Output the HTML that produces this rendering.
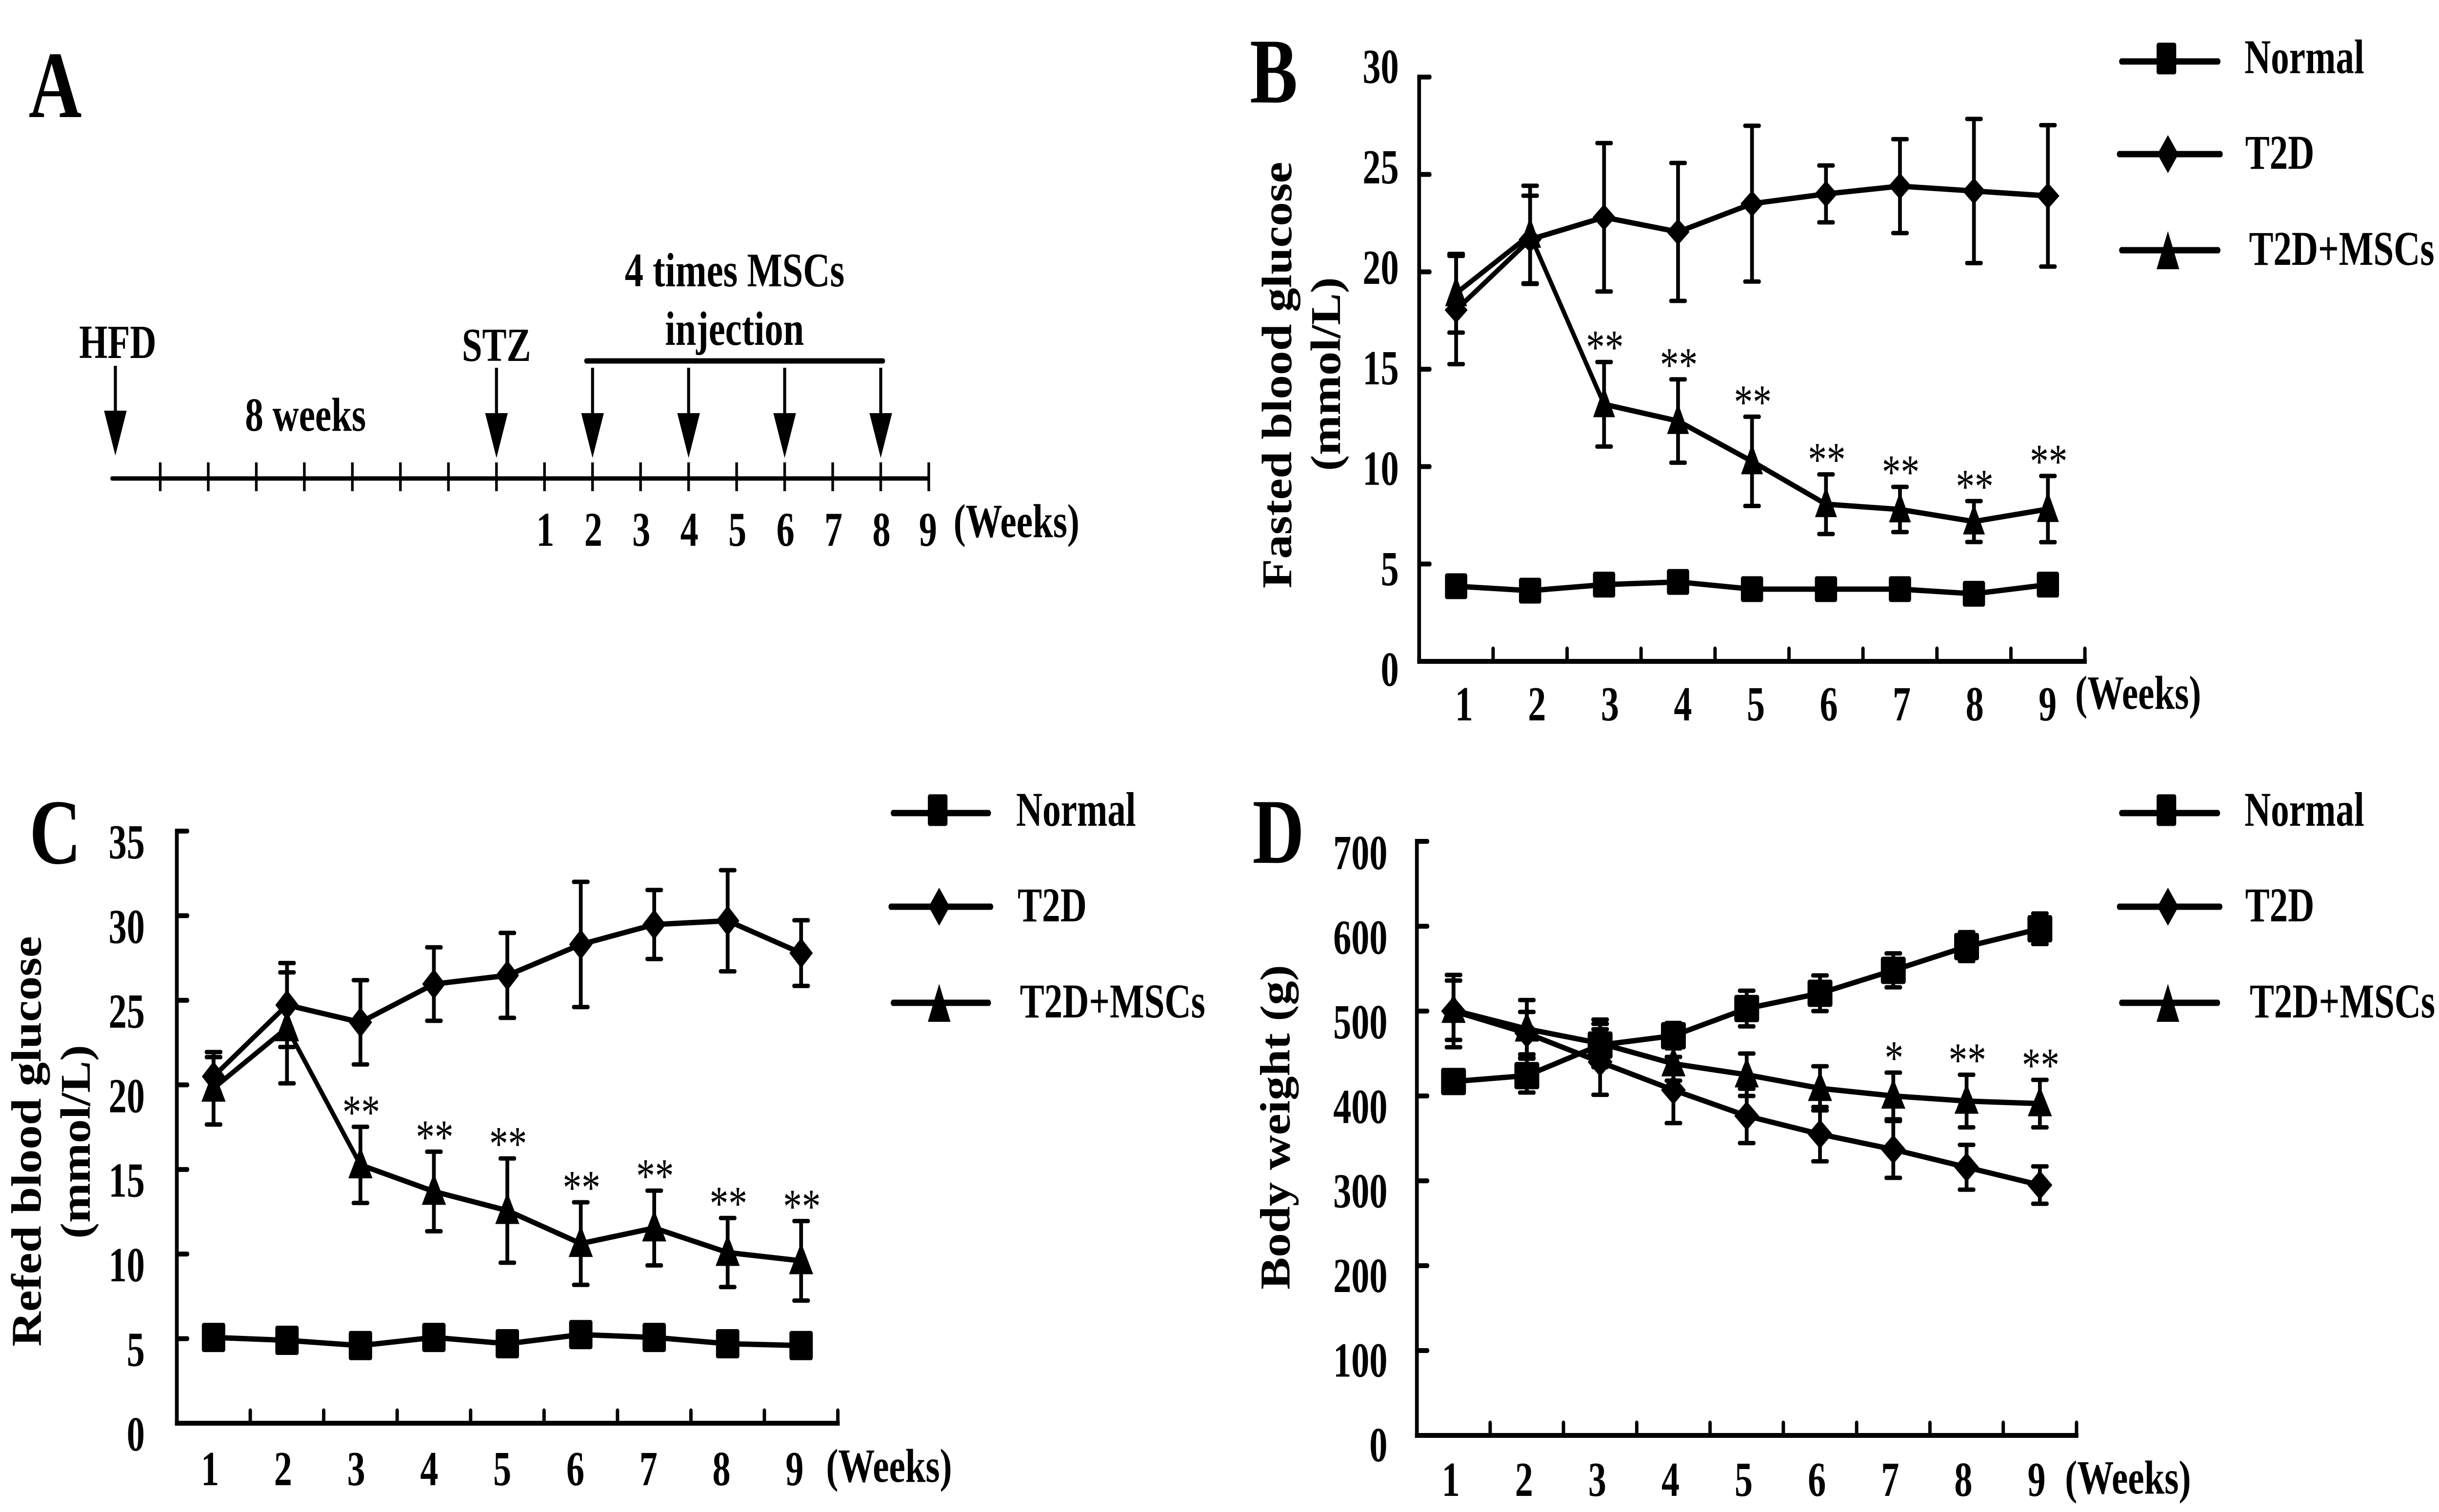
<!DOCTYPE html>
<html lang="en">
<head>
<meta charset="utf-8">
<title>Glucose and body weight after MSC injection</title>
<style>
html,body{margin:0;padding:0;background:#fff;width:100%;height:100%;overflow:hidden;}
svg{display:block;width:100vw;height:100vh;}
text{font-family:"Liberation Serif","Times New Roman",serif;font-weight:700;fill:#000;}
</style>
</head>
<body>
<svg id="figure" xmlns="http://www.w3.org/2000/svg" viewBox="0 0 6469 3100" preserveAspectRatio="none">
  <rect x="0" y="0" width="6469" height="3100" fill="#fff"/>

  <text x="76" y="240" font-size="195">A</text>
  <text x="3315" y="210" font-size="190">B</text>
  <text x="78" y="1770" font-size="190">C</text>
  <text x="3322" y="1769" font-size="190">D</text>

  <g id="timeline">
    <text x="210" y="734" font-size="97">HFD</text>
    <text x="1225" y="740" font-size="97">STZ</text>
    <text x="650" y="883" font-size="97">8 weeks</text>
    <text x="1657" y="587" font-size="99">4 times MSCs</text>
    <text x="1764" y="707" font-size="99">injection</text>
    <line x1="1555" y1="740" x2="2342" y2="740" stroke="#000" stroke-width="11" stroke-linecap="round"/>
    <text x="2529" y="1101" font-size="97">(Weeks)</text>
  </g>

  <text transform="translate(3425,769) rotate(-90) scale(1,1.14)" text-anchor="middle" font-size="99">Fasted blood glucose</text>
  <text transform="translate(3554,767) rotate(-90) scale(1,1.14)" text-anchor="middle" font-size="98">(mmol/L)</text>
  <text transform="translate(108,2340) rotate(-90) scale(1,1.14)" text-anchor="middle" font-size="99">Refed blood glucose</text>
  <text transform="translate(238,2341) rotate(-90) scale(1,1.14)" text-anchor="middle" font-size="98">(mmol/L)</text>
  <text transform="translate(3420,2311) rotate(-90) scale(1,1.14)" text-anchor="middle" font-size="99">Body weight (g)</text>

  <text x="5504" y="1453" font-size="97">(Weeks)</text>
  <text x="2191" y="3038" font-size="97">(Weeks)</text>
  <text x="5477" y="3062" font-size="97">(Weeks)</text>
</svg>

<script>
// ---- shared categories ----
const weeks = [1, 2, 3, 4, 5, 6, 7, 8, 9];
const seriesNames = ['Normal', 'T2D', 'T2D+MSCs'];

// ---- panel A timeline ----
const timelineWeeks = [1, 2, 3, 4, 5, 6, 7, 8, 9];
const timelineInjectionWeeks = [2, 4, 6, 8];

// ---- panel B: fasted blood glucose (mmol/L) ----
const bTicks = [0, 5, 10, 15, 20, 25, 30];
const bNormal = [3.86, 3.63, 3.94, 4.08, 3.71, 3.71, 3.71, 3.47, 3.94];
const bNormalErr = [0.3, 0.3, 0.3, 0.3, 0.3, 0.3, 0.3, 0.3, 0.3];
const bT2D = [18.04, 21.66, 22.8, 22.05, 23.5, 24.0, 24.4, 24.15, 23.9];
const bT2DErr = [2.78, 2.25, 3.81, 3.54, 4.0, 1.46, 2.41, 3.7, 3.63];
const bMSC = [18.9, 21.9, 13.2, 12.34, 10.27, 8.07, 7.8, 7.18, 7.82];
const bMSCErr = [2.02, 2.52, 2.17, 2.14, 2.29, 1.53, 1.16, 1.05, 1.7];
const bStars = ['', '', '**', '**', '**', '**', '**', '**', '**'];

// ---- panel C: refed blood glucose (mmol/L) ----
const cTicks = [0, 5, 10, 15, 20, 25, 30, 35];
const cNormal = [5.07, 4.9, 4.59, 5.07, 4.7, 5.24, 5.07, 4.7, 4.59];
const cNormalErr = [0.4, 0.4, 0.4, 0.4, 0.4, 0.4, 0.4, 0.4, 0.4];
const cT2D = [20.5, 24.72, 23.7, 25.96, 26.47, 28.3, 29.48, 29.7, 27.79];
const cT2DErr = [1.14, 2.48, 2.49, 2.17, 2.51, 3.7, 2.04, 2.99, 1.94];
const cMSC = [19.8, 23.37, 15.27, 13.7, 12.57, 10.62, 11.54, 10.09, 9.6];
const cMSCErr = [2.14, 3.28, 2.25, 2.35, 3.08, 2.44, 2.21, 2.04, 2.35];
const cStars = ['', '', '**', '**', '**', '**', '**', '**', '**'];

// ---- panel D: body weight (g) ----
const dTicks = [0, 100, 200, 300, 400, 500, 600, 700];
const dNormal = [417, 424, 460, 471, 503, 521, 548, 576, 597];
const dNormalErr = [12, 20, 25, 15, 21, 21, 20, 17, 18];
const dT2D = [500, 474, 440, 407, 376.5, 355, 337, 316, 295];
const dT2DErr = [42.6, 25, 38.6, 39, 32, 32, 33.5, 26.4, 22];
const dMSC = [501, 479, 462, 438, 425, 409, 400, 394, 391];
const dMSCErr = [35, 34, 28, 20, 25, 26, 27.5, 31, 28];
const dStars = ['', '', '', '', '', '', '*', '**', '**'];

const SVGNS = 'http://www.w3.org/2000/svg';
const figure = document.getElementById('figure');

function mk(parent, tag, attrs) {
  const el = document.createElementNS(SVGNS, tag);
  for (const k in attrs) el.setAttribute(k, attrs[k]);
  parent.appendChild(el);
  return el;
}

function seg(parent, name, x1, y1, x2, y2, width, cap) {
  const el = mk(parent, 'line', {x1: x1, y1: y1, x2: x2, y2: y2, stroke: '#000', 'stroke-width': width, 'stroke-linecap': cap || 'round'});
  
  
  return el;
}

function label(parent, name, str, x, y, size, anchor, weight, sx) {
  const el = mk(parent, 'text', {transform: 'translate(' + x + ',' + y + ') scale(' + (sx || 1) + ',1)', 'font-size': size, 'text-anchor': anchor || 'start'});
  if (weight) el.style.fontWeight = weight;
  el.textContent = str;
  
  
  return el;
}

function marker(parent, name, kind, cx, cy, w, h) {
  let el;
  if (kind === 0) {
    el = mk(parent, 'rect', {x: cx - w / 2, y: cy - h / 2, width: w, height: h, rx: 5, fill: '#000'});
  } else if (kind === 1) {
    const pts = [[cx, cy - h / 2], [cx + w / 2, cy], [cx, cy + h / 2], [cx - w / 2, cy]];
    el = mk(parent, 'polygon', {points: pts.map(p => p.join(',')).join(' '), fill: '#000'});
  } else {
    const pts = [[cx, cy - h / 2], [cx + w / 2, cy + h / 2], [cx - w / 2, cy + h / 2]];
    el = mk(parent, 'polygon', {points: pts.map(p => p.join(',')).join(' '), fill: '#000'});
  }
  
  
  return el;
}

function drawLegend(parent, id, rows) {
  const sizes = [[52, 65], [56, 78], [60, 78]];
  const offsets = [-6, 0, 0];
  rows.forEach(function (row, i) {
    const g = mk(parent, 'g', {});
    
    
    seg(g, 'legend-line', row.x1, row.y, row.x2, row.y, 13);
    marker(g, 'legend-marker', i, row.mx, row.y + offsets[i], sizes[i][0], sizes[i][1]);
    label(g, 'legend-label', seriesNames[i], row.tx, row.ty, 100, 'start', null, 0.97);
  });
}

function drawPanel(p) {
  const g = mk(figure, 'g', {});
  
  

  const yMax = p.ticks[p.ticks.length - 1];
  const xScale = function (i) { return p.x0 + p.band * (i + 0.5); };
  const yScale = function (v) { return p.yBase - (v / yMax) * (p.yBase - p.yTop); };
  const yLabelScale = function (v) { return p.labelBottom - (v / yMax) * (p.labelBottom - p.labelTop) + 34; };

  // axes
  const xRight = p.x0 + p.band * weeks.length;
  seg(g, 'y-axis-line', p.x0, p.yTop, p.x0, p.yBase, 10, 'square');
  seg(g, 'x-axis-line', p.x0, p.yBase, xRight, p.yBase, 10, 'square');
  p.ticks.forEach(function (t) {
    seg(g, 'y-tick', p.x0, yScale(t), p.x0 + 28, yScale(t), 10);
    label(g, 'y-tick-label', String(t), p.labelRight, yLabelScale(t), 101, 'end', null, 0.95);
  });
  weeks.forEach(function (w, i) {
    const tx = p.x0 + p.band * (i + 1);
    seg(g, 'x-tick', tx, p.yBase, tx, p.yBase - 26, 9);
    label(g, 'x-tick-label', String(w), p.xLabel0 + p.xLabelStep * i, p.xLabelBase, 101, 'middle', null, 0.95);
  });

  // series
  p.series.forEach(function (s, k) {
    const sg = mk(g, 'g', {});
    
    
    s.values.forEach(function (v, i) {
      const cx = xScale(i);
      const hi = yScale(v + s.err[i]);
      const lo = yScale(v - s.err[i]);
      seg(sg, 'error-bar-stem', cx, hi, cx, lo, 10, 'butt');
      seg(sg, 'error-bar-cap', cx - 19, hi, cx + 19, hi, 9);
      seg(sg, 'error-bar-cap', cx - 19, lo, cx + 19, lo, 9);
    });
    s.values.forEach(function (v, i) {
      if (i < s.values.length - 1) {
        seg(sg, 'series-line', xScale(i), yScale(v), xScale(i + 1), yScale(s.values[i + 1]), 11);
      }
    });
    s.values.forEach(function (v, i) {
      marker(sg, 'point-week-' + weeks[i], k, xScale(i), yScale(v) - (k === 2 ? 5 : 0), p.sizes[k][0], p.sizes[k][1]);
    });
    if (s.stars) {
      s.stars.forEach(function (st, i) {
        if (st) {
          const top = yScale(s.values[i] + s.err[i]);
          label(sg, 'significance-marker', st, xScale(i) + 2, top + 3, 100, 'middle', '400');
        }
      });
    }
  });

  drawLegend(g, p.id, p.legend);
}

function drawTimeline() {
  const g = document.getElementById('timeline');
  const axisY = 981;
  const step = 127.4;
  const first = 425;
  seg(g, 'timeline-axis', 297, axisY, 2462, axisY, 9);
  for (let i = 0; i <= 16; i++) {
    seg(g, 'timeline-tick', first + step * i, 948, first + step * i, 1007, 7, 'butt');
  }
  const zeroX = first + step * 7;
  const weekX = function (w) { return zeroX + step * w; };
  timelineWeeks.forEach(function (w) {
    label(g, 'timeline-week-label', String(w), weekX(w) - (w === 9 ? 4 : 0) + 2, 1119, 100, 'middle', null, 0.96);
  });
  const arrow = function (name, x, y0, tip) {
    seg(g, name + '-shaft', x, y0, x, tip - 60, 8, 'butt');
    const el = mk(g, 'polygon', {points: (x - 30) + ',' + (tip - 92) + ' ' + (x + 30) + ',' + (tip - 92) + ' ' + x + ',' + tip, fill: '#000'});
    
    
  };
  arrow('hfd-arrow', 306, 750, 934);
  arrow('stz-arrow', weekX(0), 754, 939);
  timelineInjectionWeeks.forEach(function (w) {
    arrow('injection-arrow-week-' + w, weekX(w), 754, 939);
  });
}

drawTimeline();

drawPanel({
  id: 'b', ticks: bTicks, x0: 3764, band: 196.2, yBase: 1356, yTop: 158,
  labelRight: 3710, labelTop: 136, labelBottom: 1372,
  xLabel0: 3883, xLabelStep: 193.5, xLabelBase: 1477,
  sizes: [[59, 53], [61, 54], [58, 63]],
  series: [
    {values: bNormal, err: bNormalErr},
    {values: bT2D, err: bT2DErr},
    {values: bMSC, err: bMSCErr, stars: bStars}
  ],
  legend: [
    {x1: 5627, x2: 5883, y: 126, mx: 5746, tx: 5953, ty: 150},
    {x1: 5621, x2: 5889, y: 316, mx: 5750, tx: 5955, ty: 346},
    {x1: 5627, x2: 5883, y: 513, mx: 5750, tx: 5965, ty: 543}
  ]
});

drawPanel({
  id: 'c', ticks: cTicks, x0: 469, band: 194.8, yBase: 2918, yTop: 1704,
  labelRight: 384, labelTop: 1726, labelBottom: 2940,
  xLabel0: 557, xLabelStep: 193.8, xLabelBase: 3045,
  sizes: [[62, 60], [62, 62], [64, 65]],
  series: [
    {values: cNormal, err: cNormalErr},
    {values: cT2D, err: cT2DErr},
    {values: cMSC, err: cMSCErr, stars: cStars}
  ],
  legend: [
    {x1: 2369, x2: 2622, y: 1667, mx: 2487, tx: 2695, ty: 1693},
    {x1: 2363, x2: 2628, y: 1859, mx: 2491, tx: 2699, ty: 1889},
    {x1: 2369, x2: 2622, y: 2056, mx: 2491, tx: 2705, ty: 2086}
  ]
});

drawPanel({
  id: 'd', ticks: dTicks, x0: 3758, band: 194.4, yBase: 2943, yTop: 1725,
  labelRight: 3680, labelTop: 1748, labelBottom: 2962,
  xLabel0: 3848, xLabelStep: 194.2, xLabelBase: 3067,
  sizes: [[66, 56], [66, 60], [64, 62]],
  series: [
    {values: dNormal, err: dNormalErr},
    {values: dT2D, err: dT2DErr},
    {values: dMSC, err: dMSCErr, stars: dStars}
  ],
  legend: [
    {x1: 5627, x2: 5882, y: 1667, mx: 5746, tx: 5953, ty: 1693},
    {x1: 5621, x2: 5888, y: 1859, mx: 5750, tx: 5955, ty: 1889},
    {x1: 5627, x2: 5882, y: 2056, mx: 5750, tx: 5967, ty: 2086}
  ]
});
</script>
</body>
</html>
